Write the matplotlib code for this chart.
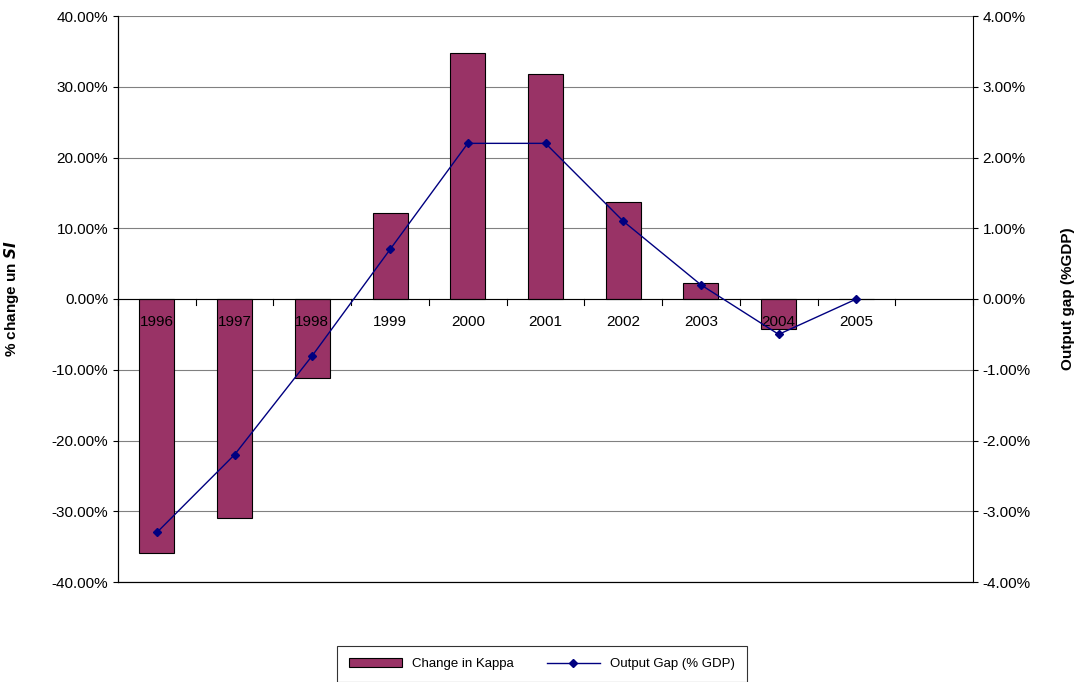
import matplotlib
matplotlib.use("Agg")
import matplotlib.pyplot as plt
from matplotlib.ticker import FuncFormatter, MultipleLocator

years = ["1996","1997","1998","1999","2000","2001","2002","2003","2004","2005"]
kappa = [-35.9, -31.0, -11.1, 12.2, 34.8, 31.8, 13.7, 2.3, -4.3, 0.0]
gap = [-3.3, -2.2, -0.8, 0.7, 2.2, 2.2, 1.1, 0.2, -0.5, 0.0]

plt.rcParams['font.family'] = ['Liberation Sans', 'DejaVu Sans']
fig = plt.figure(figsize=(10.74, 6.82), dpi=100)
ax = fig.add_axes([118/1074, 1-582/682, 855/1074, 566/682])
x = list(range(len(years)))
ax.bar(x, kappa, width=0.45, color='#993366', edgecolor='black', linewidth=0.8, zorder=3, label='Change in Kappa')
ax.set_xlim(-0.5, 10.5)
ax.set_ylim(-40, 40)
ax.yaxis.set_major_locator(MultipleLocator(10))
ax.yaxis.set_major_formatter(FuncFormatter(lambda v, p: f"{v:.2f}%"))
ax.grid(axis='y', color='#808080', linewidth=0.8, zorder=0)
ax.axhline(0, color='black', linewidth=0.8, zorder=4)
ax.set_xticks([])
for i in range(12):
    ax.plot([i-0.5, i-0.5], [0, -0.8], color='black', linewidth=0.8, zorder=4, clip_on=False)
for i, y in enumerate(years):
    ax.text(i, -2.2, y, ha='center', va='top', fontsize=11, zorder=6)
ax.spines['top'].set_visible(False)
ax.spines['right'].set_visible(False)
ax.tick_params(axis='y', labelsize=11)
ax.set_ylabel('% change un $\\mathbfit{SI}$', fontsize=11, fontweight='bold', labelpad=22)

ax2 = ax.twinx()
ax2.plot(x, gap, color='#000080', marker='D', markersize=4.5, linewidth=1, zorder=5, label='Output Gap (% GDP)')
ax2.set_ylim(-4, 4)
ax2.yaxis.set_major_locator(MultipleLocator(1))
ax2.yaxis.set_major_formatter(FuncFormatter(lambda v, p: f"{v:.2f}%"))
ax2.tick_params(axis='y', labelsize=11)
ax2.spines['top'].set_visible(False)
ax2.set_ylabel('Output gap (%GDP)', fontsize=11, fontweight='bold', labelpad=22)

h1, l1 = ax.get_legend_handles_labels()
h2, l2 = ax2.get_legend_handles_labels()
leg = fig.legend(h1+h2, l1+l2, loc='center', bbox_to_anchor=(542/1074, 1-664/682), ncol=2,
                 fontsize=9.5, frameon=True, fancybox=False, edgecolor='black', handlelength=4,
                 columnspacing=2.5, borderpad=0.9)
leg.get_frame().set_linewidth(0.8)
fig.savefig('out.png', dpi=100)
